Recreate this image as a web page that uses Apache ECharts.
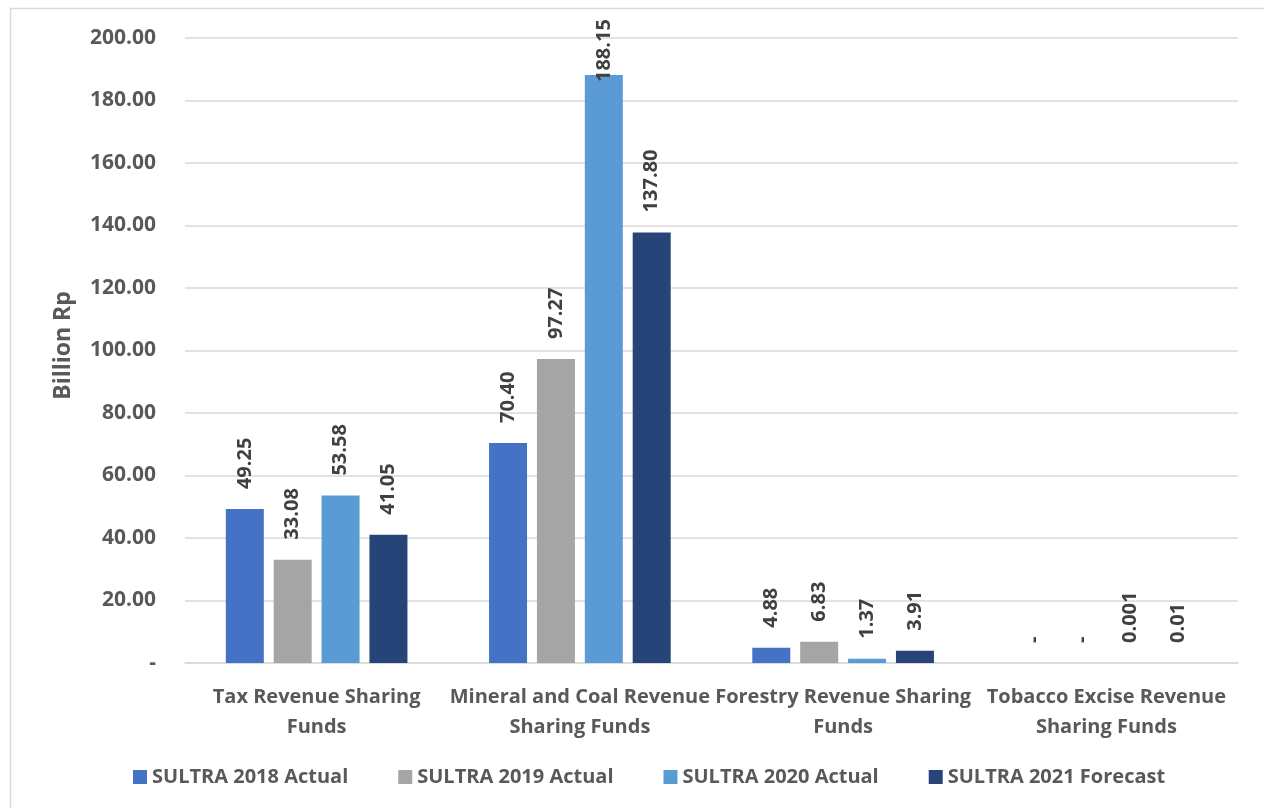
<!DOCTYPE html>
<html>
<head>
<meta charset="utf-8">
<script src="https://cdn.jsdelivr.net/npm/echarts@6/dist/echarts.min.js"></script>
<style>
  html, body { margin: 0; padding: 0; background: #fff; }
  #chart { width: 1264px; height: 808px; }
</style>
</head>
<body>
<div id="chart"></div>
<script>
// categories and series values (Billion Rp)
const categories = [
  'Tax Revenue Sharing\nFunds',
  'Mineral and Coal Revenue\nSharing Funds',
  'Forestry Revenue Sharing\nFunds',
  'Tobacco Excise Revenue\nSharing Funds'
]
const actual2018 = [49.25, 70.40, 4.88, 0]
const actual2019 = [33.08, 97.27, 6.83, 0]
const actual2020 = [53.58, 188.15, 1.37, 0.001]
const forecast2021 = [41.05, 137.80, 3.91, 0.01]
const seriesNames = ['SULTRA 2018 Actual', 'SULTRA 2019 Actual', 'SULTRA 2020 Actual', 'SULTRA 2021 Forecast']
const colors = ['#4472C4', '#A5A5A5', '#5B9BD5', '#264478']

const font = '"Open Sans", sans-serif'

// 0 shows as "-", tiny values as they are, the rest with 2 decimals
function fmt(v) {
  if (v === 0) return '-'
  if (v < 0.1) return String(v)
  return v.toFixed(2)
}

const chart = echarts.init(document.getElementById('chart'))
const series = [actual2018, actual2019, actual2020, forecast2021].map((data, i) => ({
  name: seriesNames[i],
  type: 'bar',
  // labels of bars near the top sink into the bar, like the original
  data: data.map((v) => (v > 180 ? { value: v, label: { distance: -7 } } : v)),
  barGap: '26%',
  barCategoryGap: '31%',
  itemStyle: { color: colors[i] },
  label: {
    show: true,
    position: 'top',
    rotate: 90,
    align: 'left',
    verticalAlign: 'middle',
    distance: 20,
    color: '#404040',
    fontFamily: font,
    fontWeight: 'bold',
    fontSize: 20,
    formatter: (p) => fmt(p.value)
  }
}))

chart.setOption({
  animation: false,
  color: colors,
  graphic: [{
    type: 'rect',
    shape: { x: 10.5, y: 8.5, width: 1300, height: 850 },
    style: { fill: 'none', stroke: '#d9d9d9', lineWidth: 1.5 },
    silent: true
  }],
  grid: { left: 185, right: 26, top: 38, bottom: 145 },
  legend: {
    top: 762,
    left: 128,
    itemWidth: 14,
    itemHeight: 14,
    itemGap: 50,
    icon: 'rect',
    textStyle: { color: '#595959', fontFamily: font, fontWeight: 'bold', fontSize: 20 },
    data: seriesNames
  },
  xAxis: {
    type: 'category',
    data: categories,
    axisLine: { lineStyle: { color: '#d9d9d9', width: 1.5 } },
    axisTick: { show: false },
    axisLabel: {
      interval: 0,
      margin: 19,
      color: '#595959',
      fontFamily: font,
      fontWeight: 'bold',
      fontSize: 20,
      lineHeight: 30
    }
  },
  yAxis: {
    type: 'value',
    min: 0,
    max: 200,
    interval: 20,
    name: 'Billion Rp',
    nameLocation: 'middle',
    nameGap: 110,
    nameTextStyle: { color: '#595959', fontFamily: font, fontWeight: 'bold', fontSize: 23, padding: [0, 0, 0, 10] },
    axisLine: { show: false },
    axisTick: { show: false },
    splitLine: { lineStyle: { color: '#d9d9d9', width: 1.5 } },
    axisLabel: {
      margin: 29,
      color: '#595959',
      fontFamily: font,
      fontWeight: 'bold',
      fontSize: 21,
      formatter: (v) => (v === 0 ? '-' : v.toFixed(2))
    }
  },
  series: series
})
</script>
</body>
</html>
